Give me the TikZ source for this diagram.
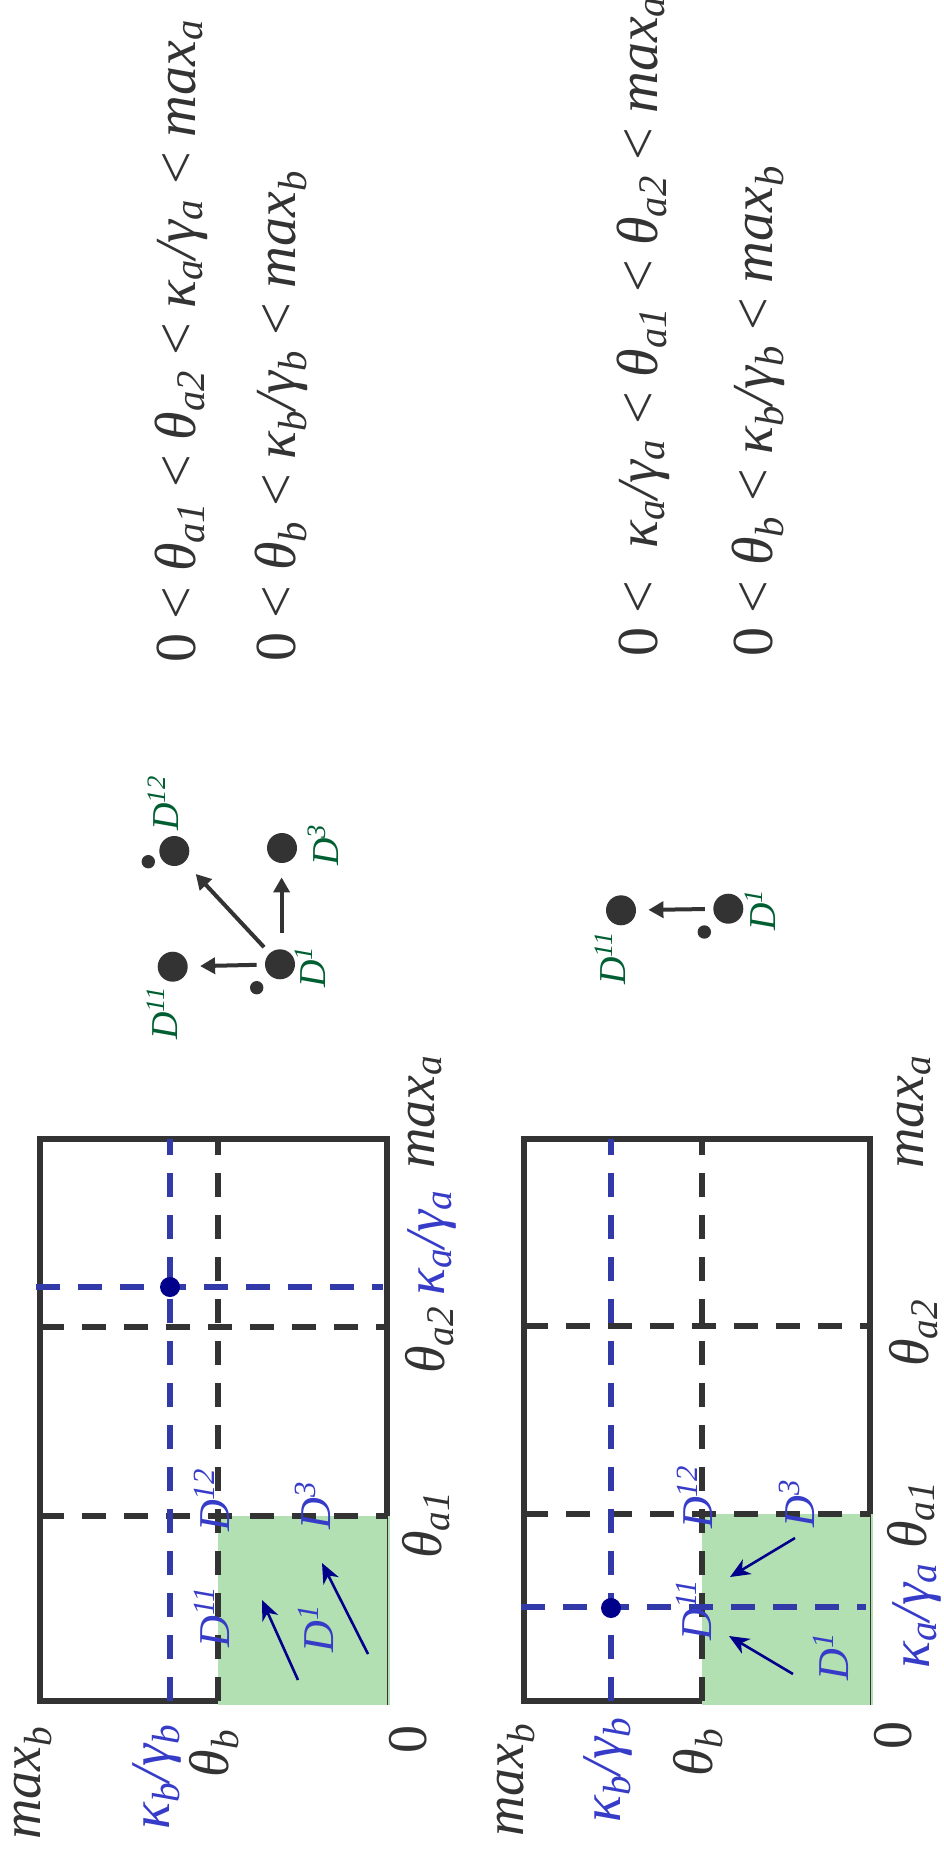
\documentclass[tikz,border=0pt]{standalone}
\usepackage{fontspec}
\setmainfont{Liberation Serif}
\usetikzlibrary{arrows.meta}
\definecolor{dk}{HTML}{333333}
\definecolor{bl}{RGB}{50,58,170}
\definecolor{blt}{RGB}{55,60,200}
\definecolor{nv}{RGB}{0,0,139}
\definecolor{gf}{RGB}{179,224,179}
\definecolor{gt}{RGB}{0,95,50}
\newcommand{\sbs}[1]{\textsubscript{\itshape #1}}
\newcommand{\sps}[1]{\textsuperscript{\itshape #1}}
\newcommand{\ltsym}{{\upshape <}}
\newcommand{\zer}{{\upshape 0}}
\begin{document}
\begin{tikzpicture}[x=0.5pt,y=-0.5pt,
 boxline/.style={draw=dk,line width=2.7pt},
 dline/.style={draw=dk,line width=2.7pt,dash pattern=on 12pt off 9pt},
 bline/.style={draw=bl,line width=2.7pt,dash pattern=on 12pt off 9pt},
 lab/.style={rotate=90,inner sep=0pt,text=dk,font=\fontsize{28}{32}\selectfont\itshape},
 blab/.style={lab,text=blt},
 dlab/.style={rotate=90,inner sep=0pt,text=blt,font=\fontsize{22}{26}\selectfont\itshape},
 glab/.style={rotate=90,inner sep=0pt,text=gt,font=\fontsize{19}{22}\selectfont\itshape},
 eq/.style={rotate=90,inner sep=0pt,anchor=base west,text=dk,font=\fontsize{29}{34}\selectfont\itshape},
 bigdot/.style={circle,fill=dk,minimum size=15pt,inner sep=0pt},
 smalldot/.style={circle,fill=dk,minimum size=6.7pt,inner sep=0pt},
 navdot/.style={circle,fill=nv,minimum size=10pt,inner sep=0pt},
 garrow/.style={draw=dk,line width=2pt,-{Triangle[length=7.5pt,width=8pt]}},
 narrow/.style={draw=nv,line width=1.3pt,-{Stealth[length=10pt,width=8.5pt,inset=3pt]}},
]
\useasboundingbox (0,0) rectangle (943,1850);

% ---------- inequalities ----------
\node[eq] (eqt1) at (195,663) {\zer{} \ltsym{} θ\sbs{a1} \ltsym{} θ\sbs{a2} \ltsym{} κ\sbs{a}/γ\sbs{a} \ltsym{} max\sbs{a}};
\node[eq] (eqt2) at (295,662) {\zer{} \ltsym{} θ\sbs{b} \ltsym{} κ\sbs{b}/γ\sbs{b} \ltsym{} max\sbs{b}};
\node[eq] (eqb1) at (657,657) {\zer{} \ltsym{}\hspace{0.3em} κ\sbs{a}/γ\sbs{a} \ltsym{} θ\sbs{a1} \ltsym{} θ\sbs{a2} \ltsym{} max\sbs{a}};
\node[eq] (eqb2) at (772,657) {\zer{} \ltsym{} θ\sbs{b} \ltsym{} κ\sbs{b}/γ\sbs{b} \ltsym{} max\sbs{b}};

% ---------- state diagrams ----------
\node[bigdot] (t11) at (172.7,966.7) {};
\node[bigdot] (t1) at (280,964.3) {};
\node[bigdot] (t12) at (174.3,851) {};
\node[bigdot] (t3) at (282,848) {};
\node[smalldot] (ts12) at (148.3,861.7) {};
\node[smalldot] (ts1) at (256.7,987.7) {};
\draw[garrow,shorten <=4pt,shorten >=6pt] (t1) -- (t11);
\draw[garrow,shorten <=8pt,shorten >=7pt] (t1.north) ++(1.6,0) coordinate (t1n) (t1n) -- (t1n |- t3.south);
\draw[garrow,shorten <=4pt,shorten >=8pt] (t1) -- (t12);
\node[glab] (gt12) at (163,803) {D\sps{12}};
\node[glab] (gt3) at (323,845) {D\sps{3}};
\node[glab] (gt1) at (310,967) {D\sps{1}};
\node[glab] (gt11) at (162,1013) {D\sps{11}};

\node[bigdot] (b11) at (621,910.3) {};
\node[bigdot] (b1) at (728.3,908.7) {};
\node[smalldot] (bs1) at (704.3,932) {};
\draw[garrow,shorten <=4pt,shorten >=6pt] (b1) -- (b11);
\node[glab] (gb11) at (610,958) {D\sps{11}};
\node[glab] (gb1) at (760,910) {D\sps{1}};

% ---------- top panel ----------
\draw[boxline] (40,1139) rectangle (387,1701);
\fill[gf] (218,1516) rectangle (389.5,1704.5);
\draw[dk,line width=0.6pt] (387.5,1516) -- (387.5,1704.5);
\draw[dline] (40,1516) -- (387,1516);
\draw[dline] (40,1327) -- (387,1327);
\draw[dline] (218,1701) -- (218,1139);
\draw[bline] (170,1701) -- (170,1139);
\draw[bline] (36,1287) -- (383,1287);
\node[navdot] (tdot) at (170,1287) {};
\coordinate (ta1s) at (298,1680); \coordinate (ta1e) at (262,1600);
\coordinate (ta2s) at (368,1654); \coordinate (ta2e) at (322,1563);
\draw[narrow] (ta1s) -- (ta1e);
\draw[narrow] (ta2s) -- (ta2e);
\node[dlab] (td11) at (212,1617) {D\sps{11}};
\node[dlab] (td12) at (212,1500) {D\sps{12}};
\node[dlab] (td3) at (313,1505) {D\sps{3}};
\node[dlab] (td1) at (316,1628) {D\sps{1}};
\node[lab] (tmaxb) at (33,1783) {max\sbs{b}};
\node[blab] (tkb) at (157,1777) {κ\sbs{b}/γ\sbs{b}};
\node[lab] (ttb) at (214,1753) {θ\sbs{b}};
\node[lab] (tzero) at (408,1739) {\zer};
\node[lab] (tta1) at (426,1525) {θ\sbs{a1}};
\node[lab] (tta2) at (430,1340) {θ\sbs{a2}};
\node[blab] (tka) at (432,1243) {κ\sbs{a}/γ\sbs{a}};
\node[lab] (tmaxa) at (425,1112) {max\sbs{a}};

% ---------- bottom panel ----------
\draw[boxline] (524,1139) rectangle (870,1701);
\fill[gf] (702,1514) rectangle (872.5,1704.5);
\draw[dk,line width=0.6pt] (870.5,1514) -- (870.5,1704.5);
\draw[dline] (524,1514) -- (870,1514);
\draw[dline] (524,1326) -- (870,1326);
\draw[dline] (702,1701) -- (702,1139);
\draw[bline] (611,1701) -- (611,1139);
\draw[bline] (521,1607) -- (866,1607);
\node[navdot] (bdot) at (611,1608) {};
\coordinate (ba1s) at (795,1538); \coordinate (ba1e) at (730,1577);
\coordinate (ba2s) at (793,1674); \coordinate (ba2e) at (729,1636);
\draw[narrow] (ba1s) -- (ba1e);
\draw[narrow] (ba2s) -- (ba2e);
\node[dlab] (bd12) at (695,1497) {D\sps{12}};
\node[dlab] (bd3) at (797,1503) {D\sps{3}};
\node[dlab] (bd11) at (694,1610) {D\sps{11}};
\node[dlab] (bd1) at (831,1656) {D\sps{1}};
\node[lab] (bmaxb) at (516,1780) {max\sbs{b}};
\node[blab] (bkb) at (608,1770) {κ\sbs{b}/γ\sbs{b}};
\node[lab] (btb) at (698,1752) {θ\sbs{b}};
\node[lab] (bzero) at (893,1735) {\zer};
\node[blab] (bka) at (917,1616) {κ\sbs{a}/γ\sbs{a}};
\node[lab] (bta1) at (911,1515) {θ\sbs{a1}};
\node[lab] (bta2) at (914,1333) {θ\sbs{a2}};
\node[lab] (bmaxa) at (914,1112) {max\sbs{a}};
\end{tikzpicture}
\end{document}
